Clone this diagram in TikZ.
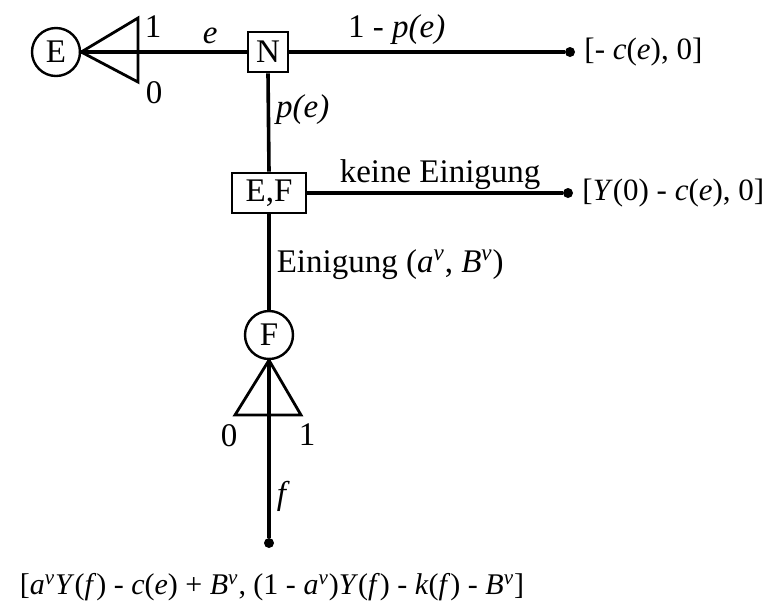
\documentclass[tikz,border=0pt]{standalone}
\usepackage{fontspec}
\setmainfont{Liberation Serif}
\usepackage{tikz}
\usetikzlibrary{positioning}
\newcommand{\av}{\textit{a}\textsuperscript{\textit{v}}}
\newcommand{\Bv}{\textit{B}\textsuperscript{\textit{v}}}

\begin{document}
\begin{tikzpicture}[
    x=0.5pt, y=-0.5pt,
    every node/.style={font=\fontsize{16.5}{20}\selectfont},
    player/.style={draw, circle, line width=1.2pt, minimum size=24pt, inner sep=0pt},
    chance/.style={draw, rectangle, line width=1.4pt, minimum height=20pt, minimum width=20pt, inner sep=1pt},
    branch/.style={line width=1.8pt},
    move/.style={line width=1.4pt, line join=miter},
    leaf/.style={circle, fill, inner sep=0pt, minimum size=5pt},
    lab/.style={inner sep=3pt},
    payoff/.style={font=\fontsize{15.5}{18}\selectfont}
]
    \useasboundingbox (0,0) rectangle (771,607);

    \node[player] (E) at (56,52) {E};
    \node[chance] (N) at (268,52) {N};
    \node[chance, minimum width=37pt] (EF) at (269,193) {E,F};
    \node[player] (F) at (269,335) {F};
    \node[leaf] (d1) at (570,52) {};
    \node[leaf] (d2) at (568,193) {};
    \node[leaf] (d3) at (269,543) {};

    % Payoffs
    \node[payoff, right=1pt of d1] (pay1) {[- \textit{c}(\textit{e}), 0]};
    \node[payoff, right=1pt of d2] (pay2) {[\textit{Y}(0) - \textit{c}(\textit{e}), 0]};
    \node[payoff, font=\fontsize{15}{18}\selectfont, below=9pt of d3, xshift=1.5pt] (pay3) {[\av\textit{Y}(\textit{f}) - \textit{c}(\textit{e}) + \Bv, (1 - \av)\textit{Y}(\textit{f}) - \textit{k}(\textit{f}) - \Bv]};

    % Effort choice of E
    \draw[move] (E.east) -- (138,18) -- (138,82) -- cycle;
    \node[lab] (e1) at (153,27) {1};
    \node[lab] (e0) at (154,93) {0};
    \draw[branch] (E.east) -- node[pos=0.78, above, lab] {\textit{e}} (N.west);

    % Nature
    \draw[branch] (N.east) -- node[pos=0.39, above, lab] {1 - \textit{p(e)}} (d1);
    \draw[branch] (N.south) -- node[pos=0.37, right, lab] {\textit{p(e)}} (EF.north);

    % Bargaining
    \draw[branch] (EF.east) -- node[pos=0.52, above, inner sep=1pt] {keine Einigung} (d2);
    \draw[branch] (EF.south) -- node[pos=0.53, right, lab] {Einigung (\av, \Bv)} (F.north);

    % Effort choice of F
    \draw[move] (F.south) -- (235,415) -- (301,415) -- cycle;
    \node[lab] (f0) at (229,436) {0};
    \node[lab] (f1) at (307,435) {1};
    \draw[branch] (F.south) -- node[pos=0.77, right, lab] {\textit{f}} (d3);

\end{tikzpicture}
\end{document}
